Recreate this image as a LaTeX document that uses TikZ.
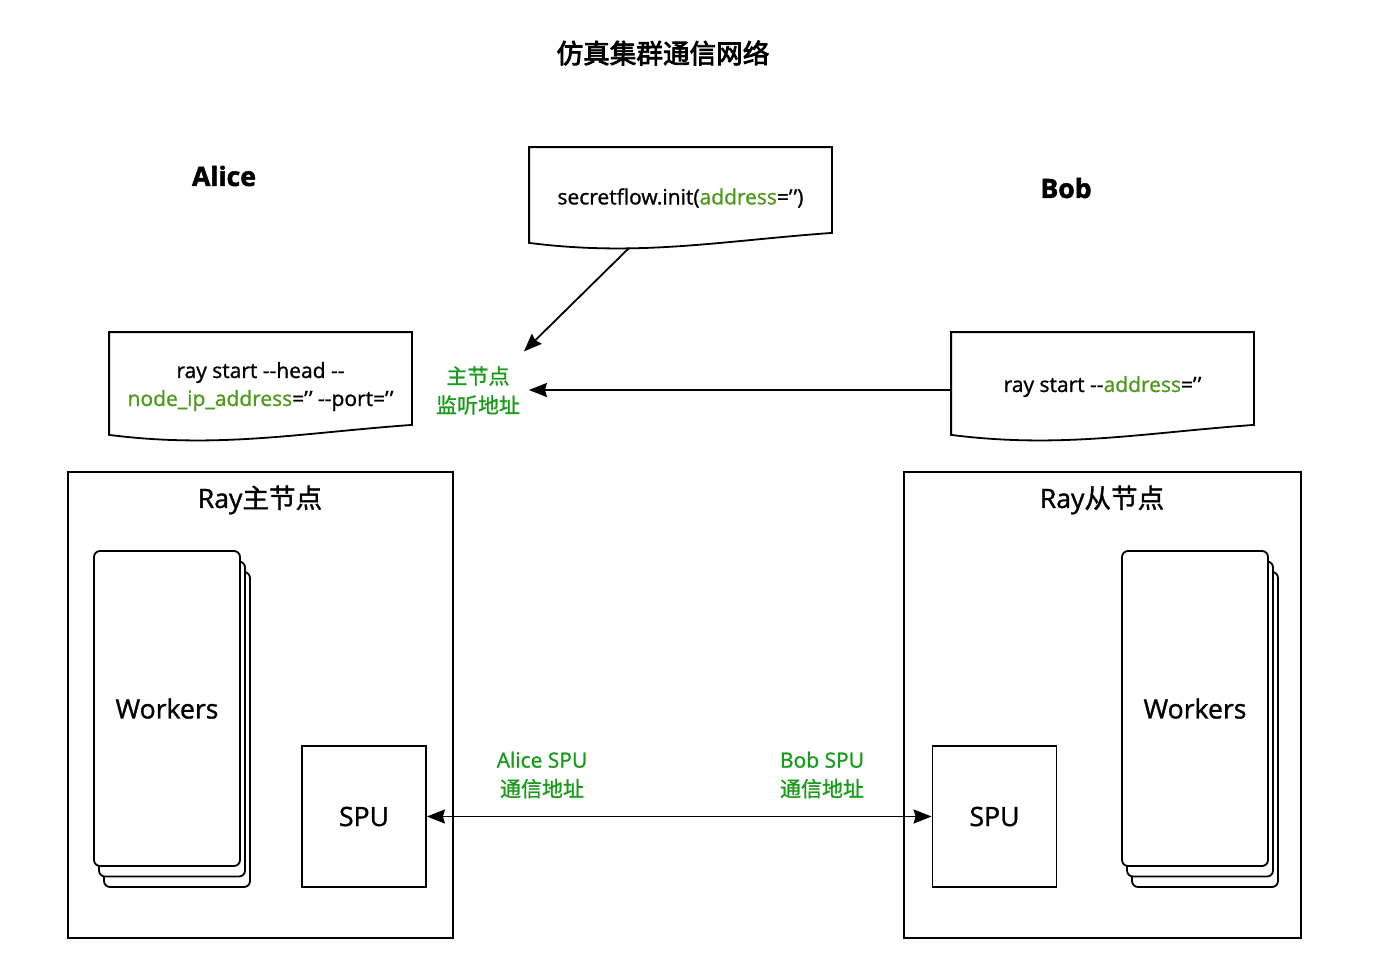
\documentclass[tikz,border=0pt]{standalone}
\usepackage{fontspec}
\setmainfont{Open Sans}[FakeBold=1.2,BoldFeatures={FakeBold=1.8}]
\newfontfamily\cjk{Noto Sans CJK SC}[FakeBold=1.2]
\newfontfamily\cjkheavy{Noto Sans CJK SC}[FakeBold=3]
\usetikzlibrary{arrows.meta,positioning,calc,shadows}
\definecolor{CodeGreen}{HTML}{4F9A1E}
\definecolor{TagGreen}{HTML}{1A9A1A}
\newcommand\cg[1]{\textcolor{CodeGreen}{#1}}
\newcommand\dd{-\kern0pt-}
\newcommand\qq{’\kern0.6pt’}
\newcommand\codefont{\fontsize{10.5}{14}\selectfont}
\newcommand\bigfont{\fontsize{13.3}{16}\selectfont}
\newcommand\tagfont{\fontsize{10.5}{14.5}\selectfont}
% document outline with a wavy foot
\newcommand\docoutline[1]{%
  \draw (#1.north west) -- (#1.north east) -- ($(#1.south east)+(0,-16)$)
    .. controls ($(#1.south east)+(-111,-8)$) and ($(#1.south west)+(110,8)$) .. ($(#1.south west)+(0,-6)$) -- cycle;}

\begin{document}
\begin{tikzpicture}[x=0.5pt,y=-0.5pt,line width=0.9pt]
    \tikzset{docnode/.style={minimum width=150.5pt,minimum height=53.5pt,inner sep=0pt,align=center,font=\codefont},
      cluster/.style={draw,minimum width=192.5pt,minimum height=233pt},
      workers/.style={draw,fill=white,rounded corners=3pt,minimum width=73pt,minimum height=157.5pt,font=\bigfont,
        double copy shadow={shadow xshift=2.5pt,shadow yshift=-5.25pt,draw,fill=white}},
      spubox/.style={draw,minimum width=62pt,minimum height=70.5pt,font=\bigfont},
      tag/.style={align=center,text=TagGreen,font=\tagfont,inner sep=4pt},
      party/.style={font=\bigfont\bfseries},
      arr/.style={-{Stealth[length=9pt,width=7pt,inset=1pt]}},
      arrboth/.style={{Stealth[length=9pt,width=7pt,inset=1pt]}-{Stealth[length=9pt,width=7pt,inset=1pt]}}}
    \useasboundingbox (0,0) rectangle (1400,979);

    \node[font=\bigfont\cjkheavy] (title) at (663,53) {仿真集群通信网络};
    \node[party] (alice) at (224,176) {Alice};
    \node[party] (bob) at (1066,188) {Bob};

    % command documents
    \node[docnode,minimum height=50pt] (initdoc) at (680.5,198) {secretflow.init(\cg{address}=\qq)};
    \node[docnode] (headdoc) at (260.5,386.5) {ray start \dd head \dd\\\cg{node\_ip\_address}=\qq{} \dd port=\qq};
    \node[docnode] (workerdoc) at (1102.5,386.5) {ray start \dd\cg{address}=\qq};
    \docoutline{initdoc}
    \docoutline{headdoc}
    \docoutline{workerdoc}

    \node[tag] (listen) at (478,390.5) {\cjk 主节点\\\cjk 监听地址};

    % ray clusters
    \node[cluster] (raymaster) at (260.5,705) {};
    \node[cluster,minimum width=198.5pt] (rayworker) at (1102.5,705) {};
    \node[font=\bigfont] (mastertitle) at (260,500) {Ray{\cjk 主节点}};
    \node[font=\bigfont] (workertitle) at (1102,500) {Ray{\cjk 从节点}};

    \node[workers] (aliceworkers) at (167,708.5) {Workers};
    \node[workers] (bobworkers) at (1195,708.5) {Workers};
    \node[spubox] (alicespu) at (364,816.5) {SPU};
    \node[spubox] (bobspu) at (994.5,816.5) {SPU};

    \node[tag] (aliceaddr) at (542,775) {Alice SPU\\\cjk 通信地址};
    \node[tag] (bobaddr) at (822,775) {Bob SPU\\\cjk 通信地址};

    % connectors
    \coordinate (initfoot) at ($(initdoc.south west)+(100,-1)$);
    \draw[arr] (initfoot) -- ($(listen.north east)+(-5,-6)$);
    \draw[arr] ($(workerdoc.west)+(0,3.5)$) -- (listen.east |- 0,390);
    \draw[arrboth] (alicespu.east) -- (bobspu.west);
  \end{tikzpicture}
\end{document}
